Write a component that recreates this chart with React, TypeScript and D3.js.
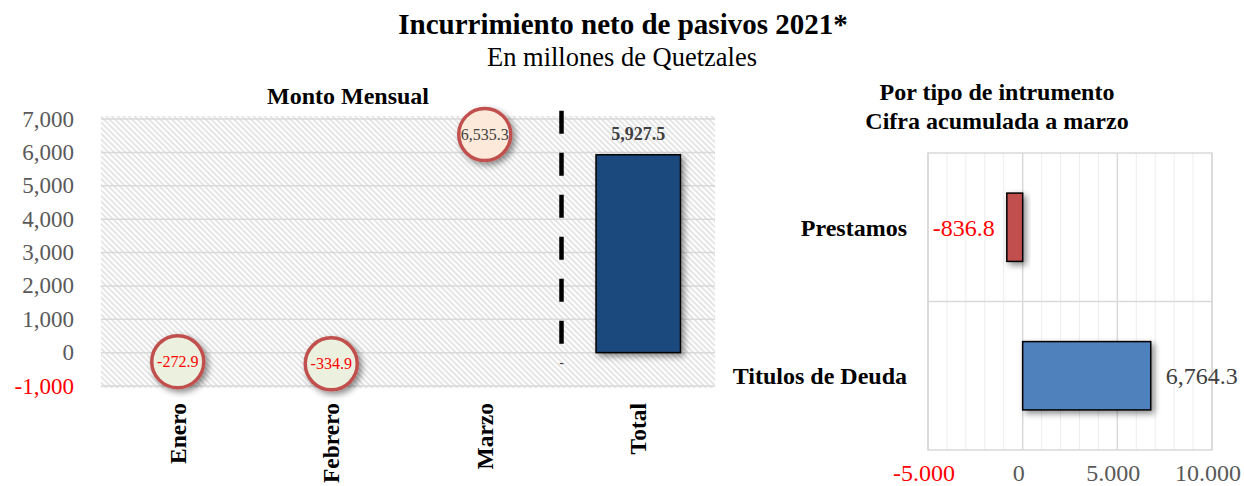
import React from "react";
import * as d3 from "d3";

// left chart: monthly amounts
const months = ["Enero", "Febrero", "Marzo", "Total"];
const monthlyValues = [-272.9, -334.9, 6535.3];
const totalValue = 5927.5;
const yTicks = [-1000, 0, 1000, 2000, 3000, 4000, 5000, 6000, 7000];

// right chart: by instrument
const instruments = ["Prestamos", "Titulos de Deuda"];
const instrumentValues = [-836.8, 6764.3];
const xTicks = [-5000, 0, 5000, 10000];
const xMinorTicks = d3.range(-5000, 10001, 1000);

const serif = "'Liberation Serif', 'Times New Roman', serif";

const enLocale = d3.formatLocale({ decimal: ".", thousands: ",", grouping: [3], currency: ["", ""], minus: "-" });
const esLocale = d3.formatLocale({ decimal: ",", thousands: ".", grouping: [3], currency: ["", ""], minus: "-" });
const fmtInt = enLocale.format(",");
const fmtDec = enLocale.format(",.1f");
const fmtEs = esLocale.format(",");

export default function App() {
  const width = 1244;
  const height = 486;

  // ---- left chart scales
  const L = { left: 101, right: 715, top: 119, bottom: 386 };
  const x = d3.scaleBand<string>()
    .domain(months)
    .range([L.left, L.right])
    .paddingInner(0.45)
    .paddingOuter(0.225);
  const y = d3.scaleLinear().domain([-1000, 7000]).range([L.bottom, L.top]);
  const cx = (m: string) => (x(m) ?? 0) + x.bandwidth() / 2;
  const sepX = (x("Total") ?? 0) - (x.step() * x.paddingInner()) / 2;

  // ---- right chart scales
  const R = { left: 928, right: 1212, top: 153, bottom: 450 };
  const rx = d3.scaleLinear().domain([-5000, 10000]).range([R.left, R.right]);
  const ry = d3.scaleBand<string>()
    .domain(instruments)
    .range([R.top, R.bottom])
    .paddingInner(0.54)
    .paddingOuter(0.27);
  const barColors = ["#C0504D", "#4F81BD"];
  const midLine = (ry(instruments[1]) ?? 0) - (ry.step() * ry.paddingInner()) / 2;

  return (
    <div style={{ position: "fixed", left: 0, top: 0 }}>
      <svg width={width} height={height} style={{ display: "block", background: "#fff" }} fontFamily={serif}>
        <defs>
          <pattern id="hatch" patternUnits="userSpaceOnUse" width={4} height={4} patternTransform="rotate(-45)">
            <rect width={4} height={4} fill="#fff" />
            <line x1={1} y1={0} x2={1} y2={4} stroke="#D4D4D4" strokeWidth={1.2} />
          </pattern>
          <filter id="shadow" x="-50%" y="-50%" width="200%" height="200%">
            <feDropShadow dx={3} dy={3} stdDeviation={3} floodColor="#000" floodOpacity={0.45} />
          </filter>
        </defs>

        {/* titles */}
        <text x={623} y={34} textAnchor="middle" fontSize={29} fontWeight="bold" fill="#000">
          Incurrimiento neto de pasivos 2021*
        </text>
        <text x={622} y={66} textAnchor="middle" fontSize={26.5} fill="#000">
          En millones de Quetzales
        </text>

        {/* ---------- left chart ---------- */}
        <text x={348} y={104} textAnchor="middle" fontSize={24} fontWeight="bold" fill="#000">
          Monto Mensual
        </text>
        <rect x={L.left} y={L.top - 3} width={L.right - L.left} height={L.bottom - L.top + 5} fill="url(#hatch)" />
        {yTicks.map((t) => (
          <g key={t}>
            <line x1={L.left} x2={L.right} y1={y(t)} y2={y(t)} stroke="#D9D9D9" strokeWidth={1.5} />
            <text
              x={74}
              y={y(t)}
              dy="0.33em"
              textAnchor="end"
              fontSize={23}
              fill={t < 0 ? "#FF0000" : "#595959"}
            >
              {fmtInt(t)}
            </text>
          </g>
        ))}

        {/* separator */}
        <line
          x1={sepX}
          x2={sepX}
          y1={y(7250)}
          y2={y(200)}
          stroke="#000"
          strokeWidth={4.5}
          strokeDasharray="23 19"
        />
        <text x={sepX} y={y(0) + 14} textAnchor="middle" fontSize={14} fill="#404040">-</text>

        {/* total bar */}
        <rect
          x={x("Total")}
          y={y(totalValue)}
          width={x.bandwidth()}
          height={y(0) - y(totalValue)}
          fill="#1F497D"
          stroke="#000"
          strokeWidth={1.5}
          filter="url(#shadow)"
        />
        <text x={cx("Total")} y={y(totalValue) - 15} textAnchor="middle" fontSize={18} fontWeight="bold" fill="#404040">
          {fmtDec(totalValue)}
        </text>

        {/* monthly bubbles */}
        {monthlyValues.map((v, i) => (
          <g key={months[i]}>
            <circle
              cx={cx(months[i])}
              cy={y(v)}
              r={26}
              fill={v < 0 ? "#EBF1DE" : "#FDE9D9"}
              stroke="#C0504D"
              strokeWidth={3.5}
              filter="url(#shadow)"
            />
            <text
              x={cx(months[i])}
              y={y(v)}
              dy="0.33em"
              textAnchor="middle"
              fontSize={16}
              fill={v < 0 ? "#FF0000" : "#404040"}
            >
              {fmtDec(v)}
            </text>
          </g>
        ))}

        {/* category labels */}
        {months.map((m) => (
          <text
            key={m}
            transform={`translate(${cx(m) + 8},${L.bottom + 17}) rotate(-90)`}
            textAnchor="end"
            fontSize={23.5}
            fontWeight="bold"
            fill="#000"
          >
            {m}
          </text>
        ))}

        {/* ---------- right chart ---------- */}
        <text x={997} y={100} textAnchor="middle" fontSize={24} fontWeight="bold" fill="#000">
          Por tipo de intrumento
        </text>
        <text x={997} y={129} textAnchor="middle" fontSize={24} fontWeight="bold" fill="#000">
          Cifra acumulada a marzo
        </text>

        {xMinorTicks.map((t) => (
          <line
            key={t}
            x1={rx(t)}
            x2={rx(t)}
            y1={R.top}
            y2={R.bottom}
            stroke={t % 5000 === 0 ? "#D9D9D9" : "#EDEDED"}
            strokeWidth={t % 5000 === 0 ? 1.5 : 1}
          />
        ))}
        <line x1={R.left} x2={R.right} y1={midLine} y2={midLine} stroke="#D9D9D9" strokeWidth={1.5} />
        <rect x={R.left} y={R.top} width={R.right - R.left} height={R.bottom - R.top} fill="none" stroke="#D9D9D9" strokeWidth={1.5} />

        {instrumentValues.map((v, i) => {
          const by = ry(instruments[i]) ?? 0;
          const mid = by + ry.bandwidth() / 2;
          return (
            <g key={instruments[i]}>
              <rect
                x={rx(Math.min(0, v))}
                y={by}
                width={Math.abs(rx(v) - rx(0))}
                height={ry.bandwidth()}
                fill={barColors[i]}
                stroke="#000"
                strokeWidth={1.5}
                filter="url(#shadow)"
              />
              <text
                x={v < 0 ? rx(v) - 12 : rx(v) + 15}
                y={mid}
                dy="0.35em"
                textAnchor={v < 0 ? "end" : "start"}
                fontSize={24}
                fill={v < 0 ? "#FF0000" : "#404040"}
              >
                {fmtDec(v)}
              </text>
              <text x={907} y={mid} dy="0.35em" textAnchor="end" fontSize={24} fontWeight="bold" fill="#000">
                {instruments[i]}
              </text>
            </g>
          );
        })}

        {xTicks.map((t) => (
          <text
            key={t}
            x={rx(t) - 4}
            y={481}
            textAnchor="middle"
            fontSize={24}
            fill={t < 0 ? "#FF0000" : "#595959"}
          >
            {fmtEs(t)}
          </text>
        ))}
      </svg>
    </div>
  );
}
